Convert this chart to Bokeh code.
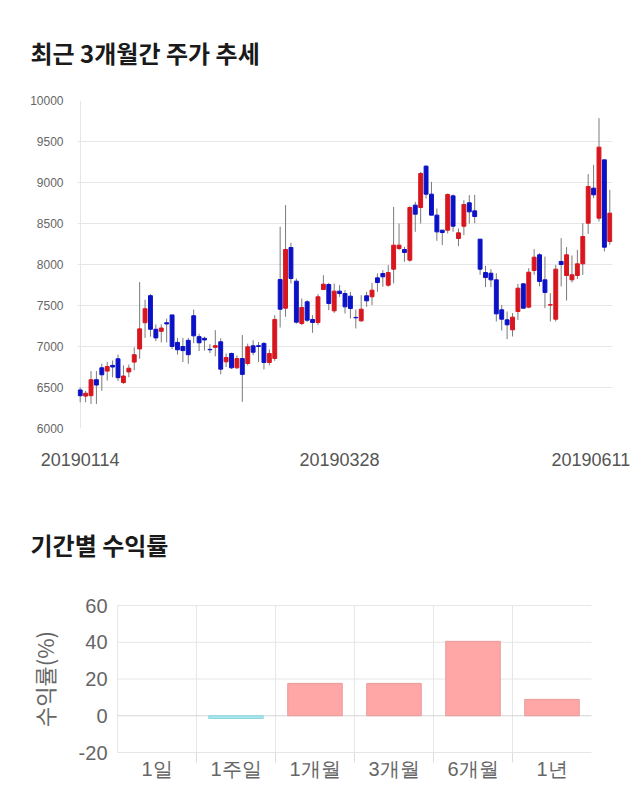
from bokeh.plotting import figure
from bokeh.layouts import column
from bokeh.models import FixedTicker, Range1d
from bokeh.core.properties import value
from bokeh.embed import file_html
from bokeh.resources import INLINE

# ---- price data (daily candles, index 0 = 20190114) ----
opens = [6470, 6395, 6400, 6595, 6740, 6700, 6770, 6850, 6560, 6690,
         6810, 6970, 7290, 7620, 7210, 7185, 7290, 7385, 7050, 7000,
         7075, 7375, 7120, 7100, 6965, 6990, 7057, 6813, 6915, 6740,
         6853, 6793, 7008, 7010, 7037, 6805, 6854, 7817, 7467, 8207,
         7797, 7280, 7545, 7330, 7293, 7695, 7756, 7435, 7675, 7646,
         7614, 7355, 7313, 7618, 7606, 7837, 7890, 7748, 7943, 8195,
         8183, 8053, 8724, 8695, 9199, 8858, 8602, 8419, 8419, 8837,
         8317, 8467, 8752, 8654, 8309, 7902, 7894, 7813, 7447, 7325,
         7203, 7427, 7764, 7480, 7927, 8118, 7813, 7505, 7333, 8037,
         7866, 7813, 7866, 8008, 8504, 8931, 8565, 9276, 8280]
highs = [6500, 6460, 6700, 6700, 6790, 6810, 6830, 6900, 6770, 6780,
         6990, 7785, 7570, 7640, 7270, 7270, 7340, 7385, 7105, 7105,
         7105, 7450, 7155, 7120, 7030, 7200, 7100, 6915, 6925, 6890,
         7140, 7035, 7077, 7055, 7055, 6965, 7382, 8460, 8724, 8264,
         7829, 7585, 7565, 7382, 7638, 7870, 7776, 7768, 7748, 7687,
         7667, 7451, 7626, 7667, 7776, 7890, 7931, 7992, 8703, 8500,
         8215, 8711, 8764, 9130, 9211, 9008, 8683, 8419, 8866, 8854,
         8439, 8785, 8846, 8850, 8309, 7984, 7943, 7894, 7508, 7427,
         7407, 7764, 7772, 7955, 8187, 8138, 8097, 7650, 7996, 8321,
         8211, 8110, 8179, 8504, 9102, 9215, 9785, 9276, 8911]
lows = [6320, 6320, 6300, 6300, 6460, 6585, 6625, 6580, 6545, 6625,
        6710, 6850, 7105, 7120, 7065, 7050, 7050, 6970, 6900, 6810,
        6790, 7040, 6945, 6950, 6920, 6880, 6660, 6750, 6725, 6725,
        6325, 6770, 6894, 6810, 6720, 6770, 6825, 7232, 7362, 7768,
        7280, 7260, 7300, 7167, 7260, 7690, 7443, 7410, 7606, 7402,
        7341, 7220, 7300, 7484, 7504, 7667, 7728, 7728, 7768, 8175,
        8033, 8033, 8398, 8500, 8805, 8602, 8289, 8236, 8378, 8398,
        8224, 8358, 8500, 8504, 7874, 7724, 7724, 7305, 7195, 7090,
        7122, 7325, 7467, 7467, 7874, 7732, 7467, 7305, 7305, 7732,
        7561, 7780, 7821, 7874, 8374, 8809, 8524, 8158, 8240]
closes = [6400, 6430, 6595, 6530, 6655, 6755, 6750, 6620, 6640, 6735,
          6900, 7215, 7460, 7210, 7105, 7225, 7275, 7000, 6960, 6950,
          6900, 7130, 7045, 7080, 6960, 7010, 6724, 6866, 6740, 6853,
          6660, 6996, 6930, 7000, 6805, 6915, 7330, 7455, 8183, 7829,
          7297, 7476, 7321, 7293, 7606, 7760, 7524, 7675, 7646, 7484,
          7463, 7350, 7455, 7557, 7687, 7780, 7850, 7902, 8236, 8236,
          8146, 8695, 8614, 9110, 8858, 8602, 8398, 8390, 8854, 8467,
          8386, 8732, 8642, 8585, 7943, 7841, 7813, 7398, 7333, 7264,
          7358, 7711, 7467, 7906, 8089, 7793, 7659, 7510, 7943, 8000,
          8118, 7874, 8008, 8341, 8951, 8850, 9431, 8211, 8626]
date_tick_index = [0, 48, 98]
date_tick_labels = ["20190114", "20190328", "20190611"]
price_ticks = [6000, 6500, 7000, 7500, 8000, 8500, 9000, 9500, 10000]

# ---- period returns ----
periods = ["1일", "1주일", "1개월", "3개월", "6개월", "1년"]
returns = [0.0, -1.5, 17.6, 17.6, 40.5, 8.9]
return_ticks = [-20, 0, 20, 40, 60]

UP = "#D8161E"
DOWN = "#0B12C6"
GRID = "#e6e6e6"
BORDER_L, BORDER_R, W = 77, 28, 640
FRAME_W = W - BORDER_L - BORDER_R
H1, H2 = 487, 323

# ================= candlestick chart =================
n = len(opens)
idx = list(range(n))
x_lo, x_hi = -0.5, n - 0.5
p1 = figure(width=W, height=H1, x_range=Range1d(x_lo, x_hi),
            y_range=Range1d(6000, 10000), output_backend="svg",
            toolbar_location=None, min_border_left=BORDER_L, min_border_right=BORDER_R,
            min_border_top=100, min_border_bottom=H1 - 428)
p1.outline_line_color = None
p1.title.text = "최근 3개월간 주가 추세"
p1.title.text_font = "Noto Sans CJK KR"
p1.title.text_font_size = "24px"
p1.title.text_font_style = "bold"
p1.title.text_color = "#1a1a1a"
p1.title.align = "left"
p1.title.offset = 30 - BORDER_L
p1.title.standoff = 62

top = [max(o, c) for o, c in zip(opens, closes)]
bot = [min(o, c) for o, c in zip(opens, closes)]
cols = [UP if c > o else DOWN for o, c in zip(opens, closes)]
p1.segment(x0=idx, y0=lows, x1=idx, y1=highs, line_color="#7a7a7a", line_width=1)
p1.vbar(x=idx, width=0.72, top=top, bottom=bot, fill_color=cols, line_color=cols)

p1.yaxis.ticker = FixedTicker(ticks=price_ticks)
p1.yaxis.major_label_text_font = "Liberation Sans"
p1.yaxis.major_label_text_font_size = "12px"
p1.yaxis.major_label_text_color = "#666666"
p1.yaxis.axis_line_color = None
p1.yaxis.major_tick_line_color = None
p1.yaxis.minor_tick_line_color = None
p1.yaxis.major_label_standoff = 8

# keep the last date label inside the canvas
pos = [min(i, x_hi - 4.0) for i in date_tick_index]
p1.xaxis.ticker = FixedTicker(ticks=pos)
p1.xaxis.major_label_overrides = {pv: lab for pv, lab in zip(pos, date_tick_labels)}
p1.xaxis.major_label_text_font = "Liberation Sans"
p1.xaxis.major_label_text_font_size = "18px"
p1.xaxis.major_label_text_color = "#555555"
p1.xaxis.axis_line_color = None
p1.xaxis.major_tick_line_color = None
p1.xaxis.minor_tick_line_color = None
p1.xaxis.major_label_standoff = 18
p1.ygrid.grid_line_color = GRID
p1.xgrid.ticker = FixedTicker(ticks=[0])
p1.xgrid.grid_line_color = GRID

# ================= returns bar chart =================
# the column layout aligns both frames, so the bar area (pixels 117..591,
# values -20..60 at pixels 605..752) is placed inside the shared frame
m = len(periods)
cx = list(range(m))
bounds = [i + 0.5 for i in range(m - 1)]
px_per_cat = (591 - 117) / m
bx_lo = -0.5 - (117 - BORDER_L) / px_per_cat
bx_hi = (m - 0.5) + (BORDER_L + FRAME_W - 591) / px_per_cat
r_lo, r_hi = return_ticks[0], return_ticks[-1]
px_per_val = (752 - 605) / (r_hi - r_lo)
pad = 11 / px_per_val
p2 = figure(width=W, height=H2, x_range=Range1d(bx_lo, bx_hi),
            y_range=Range1d(r_lo - pad, r_hi + pad), output_backend="svg",
            toolbar_location=None,
            min_border_left=BORDER_L, min_border_right=BORDER_R,
            min_border_top=594 - H1, min_border_bottom=47)
p2.outline_line_color = None
p2.title.text = "기간별 수익률"
p2.title.text_font = "Noto Sans CJK KR"
p2.title.text_font_size = "24px"
p2.title.text_font_style = "bold"
p2.title.text_color = "#1a1a1a"
p2.title.align = "left"
p2.title.offset = 30 - BORDER_L
p2.title.standoff = 65

p2.xgrid.grid_line_color = None
p2.ygrid.grid_line_color = None
# vertical grid lines at category boundaries plus small ticks below
vx = [-0.5] + bounds
p2.segment(x0=vx, x1=vx, y0=[r_lo] * len(vx), y1=[r_hi] * len(vx),
           line_color=GRID, line_width=1)
p2.segment(x0=bounds, x1=bounds, y0=[r_lo] * len(bounds),
           y1=[r_lo - 10 / px_per_val] * len(bounds), line_color="#dddddd", line_width=1)
# horizontal grid lines limited to the category area
p2.segment(x0=[-0.5] * len(return_ticks), x1=[m - 0.5] * len(return_ticks),
           y0=return_ticks, y1=return_ticks,
           line_color=["#d4d4d4" if t == 0 else GRID for t in return_ticks], line_width=1)

fills = ["#FFA6A6" if v >= 0 else "#A8E6EE" for v in returns]
lines = [("#E99A9A" if v > 0 else "#8ED6E2") if v != 0 else None for v in returns]
p2.vbar(x=cx, width=0.69, top=returns, bottom=0, fill_color=fills, line_color=lines)

# y tick labels next to the category area
p2.text(x=[-0.5] * len(return_ticks), y=return_ticks, text=[str(t) for t in return_ticks],
        x_offset=-10, text_align="right", text_baseline="middle",
        text_font=value("Liberation Sans"), text_font_size="20px", text_color="#666666")

p2.xaxis.ticker = FixedTicker(ticks=cx)
p2.xaxis.major_label_overrides = {i: s for i, s in zip(cx, periods)}
p2.xaxis.major_tick_line_color = None
p2.xaxis.axis_line_color = None
p2.xaxis.minor_tick_line_color = None
p2.xaxis.major_label_standoff = -12
p2.xaxis.major_label_text_font = "Liberation Sans"
p2.xaxis.major_label_text_font_size = "20px"
p2.xaxis.major_label_text_color = "#666666"

p2.yaxis.ticker = FixedTicker(ticks=[])
p2.yaxis.axis_line_color = None
p2.yaxis.major_tick_line_color = None
p2.yaxis.minor_tick_line_color = None
p2.yaxis.axis_label = "수익률(%)"
p2.yaxis.axis_label_text_font = "Noto Sans CJK KR"
p2.yaxis.axis_label_text_font_size = "22px"
p2.yaxis.axis_label_text_font_style = "normal"
p2.yaxis.axis_label_text_color = "#666666"
p2.yaxis.axis_label_standoff = 18

layout = column(p1, p2)
open("out.html", "w").write(file_html(layout, INLINE))
